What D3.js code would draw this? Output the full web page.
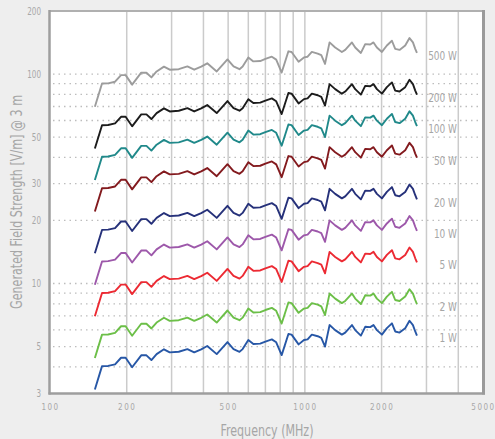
<!DOCTYPE html>
<html><head><meta charset="utf-8">
<script src="https://cdn.jsdelivr.net/npm/d3@7"></script>
<style>
html,body{margin:0;padding:0;background:#eeeeee;}
svg{display:block;}
</style></head>
<body>
<svg id="chart" width="495" height="439"></svg>
<script>
const freq = [150,160,169,180,190,198,210,228,239,250, 262,280,295,320,346,368,392,414,451,497, 525,554,570,600,628,668,700,742,772,811, 862,887,945,992,1025,1065,1123,1160,1200,1250, 1315,1397,1440,1530,1576,1659,1725,1805,1859,1917, 2006,2098,2196,2262,2352,2476,2574,2655,2711,2753];

const p1W = [3.12,4.03,4.04,4.11,4.42,4.42,3.98,4.54,4.54,4.31, 4.60,4.85,4.69,4.72,4.86,4.69,4.85,5.03,4.60,5.25, 4.86,4.72,4.86,5.37,5.14,5.16,5.28,5.41,5.24,4.55, 5.74,5.70,5.12,5.37,5.41,5.70,5.60,5.50,5.00,6.33, 5.99,5.70,5.83,6.33,5.99,5.64,6.21,6.19,6.33,5.99, 5.70,6.12,6.45,5.90,5.83,6.12,6.64,6.33,5.90,5.64];
const p2W = [4.41,5.70,5.71,5.81,6.25,6.25,5.63,6.42,6.42,6.10, 6.51,6.86,6.63,6.68,6.87,6.63,6.86,7.11,6.51,7.43, 6.87,6.68,6.87,7.59,7.27,7.30,7.47,7.65,7.41,6.44, 8.12,8.06,7.24,7.59,7.65,8.06,7.92,7.78,7.07,8.95, 8.47,8.06,8.25,8.95,8.47,7.98,8.78,8.75,8.95,8.47, 8.06,8.66,9.12,8.34,8.25,8.66,9.39,8.95,8.34,7.98];
const p5W = [6.98,9.01,9.03,9.19,9.88,9.88,8.90,10.15,10.15,9.64, 10.29,10.85,10.49,10.55,10.87,10.49,10.85,11.25,10.29,11.74, 10.87,10.55,10.87,12.01,11.49,11.54,11.81,12.10,11.72,10.17, 12.84,12.75,11.45,12.01,12.10,12.75,12.52,12.30,11.18,14.16, 13.39,12.75,13.04,14.16,13.39,12.61,13.89,13.84,14.16,13.39, 12.75,13.69,14.42,13.19,13.04,13.69,14.85,14.16,13.19,12.61];
const p10W = [9.87,12.74,12.78,13.00,13.98,13.98,12.59,14.36,14.36,13.63, 14.55,15.34,14.83,14.93,15.37,14.83,15.34,15.91,14.55,16.60, 15.37,14.93,15.37,16.98,16.25,16.32,16.70,17.11,16.57,14.39, 18.15,18.03,16.19,16.98,17.11,18.03,17.71,17.39,15.81,20.02, 18.94,18.03,18.44,20.02,18.94,17.84,19.64,19.58,20.02,18.94, 18.03,19.35,20.40,18.66,18.44,19.35,21.00,20.02,18.66,17.84];
const p20W = [13.95,18.02,18.07,18.38,19.77,19.77,17.80,20.30,20.30,19.28, 20.57,21.69,20.97,21.11,21.73,20.97,21.69,22.50,20.57,23.48, 21.73,21.11,21.73,24.02,22.99,23.08,23.61,24.19,23.43,20.35, 25.67,25.49,22.90,24.02,24.19,25.49,25.04,24.60,22.36,28.31, 26.79,25.49,26.07,28.31,26.79,25.22,27.77,27.68,28.31,26.79, 25.49,27.37,28.85,26.39,26.07,27.37,29.70,28.31,26.39,25.22];
const p50W = [22.06,28.50,28.57,29.06,31.26,31.26,28.15,32.10,32.10,30.48, 32.53,34.30,33.17,33.38,34.37,33.17,34.30,35.57,32.53,37.13, 34.37,33.38,34.37,37.97,36.35,36.49,37.34,38.26,37.05,32.18, 40.59,40.31,36.21,37.97,38.26,40.31,39.60,38.89,35.36,44.76, 42.36,40.31,41.23,44.76,42.36,39.88,43.91,43.77,44.76,42.36, 40.31,43.28,45.61,41.72,41.23,43.28,46.95,44.76,41.72,39.88];
const p100W = [31.2,40.3,40.4,41.1,44.2,44.2,39.8,45.4,45.4,43.1, 46.0,48.5,46.9,47.2,48.6,46.9,48.5,50.3,46.0,52.5, 48.6,47.2,48.6,53.7,51.4,51.6,52.8,54.1,52.4,45.5, 57.4,57.0,51.2,53.7,54.1,57.0,56.0,55.0,50.0,63.3, 59.9,57.0,58.3,63.3,59.9,56.4,62.1,61.9,63.3,59.9, 57.0,61.2,64.5,59.0,58.3,61.2,66.4,63.3,59.0,56.4];
const p200W = [44.1,57.0,57.1,58.1,62.5,62.5,56.3,64.2,64.2,61.0, 65.1,68.6,66.3,66.8,68.7,66.3,68.6,71.1,65.1,74.3, 68.7,66.8,68.7,75.9,72.7,73.0,74.7,76.5,74.1,64.4, 81.2,80.6,72.4,75.9,76.5,80.6,79.2,77.8,70.7,89.5, 84.7,80.6,82.5,89.5,84.7,79.8,87.8,87.5,89.5,84.7, 80.6,86.6,91.2,83.4,82.5,86.6,93.9,89.5,83.4,79.8];
const p500W = [69.8,90.1,90.3,91.9,98.8,98.8,89.0,101.5,101.5,96.4, 102.9,108.5,104.9,105.5,108.7,104.9,108.5,112.5,102.9,117.4, 108.7,105.5,108.7,120.1,114.9,115.4,118.1,121.0,117.2,101.7, 128.4,127.5,114.5,120.1,121.0,127.5,125.2,123.0,111.8,141.6, 133.9,127.5,130.4,141.6,133.9,126.1,138.9,138.4,141.6,133.9, 127.5,136.9,144.2,131.9,130.4,136.9,148.5,141.6,131.9,126.1];

const seriesNames = ["500 W","200 W","100 W","50 W","20 W","10 W","5 W","2 W","1 W"];
const seriesValues = [p500W,p200W,p100W,p50W,p20W,p10W,p5W,p2W,p1W];
const seriesColors = ["#9c9c9c","#1c1c1c","#20898a","#831a1e","#26317a","#9d58aa","#ec2a33","#6cbf48","#2757a6"];
const labelValues = [122,77.1,55.0,38.4,24.4,17.2,12.35,7.74,5.53];

const xTicks = [100,200,500,1000,2000,5000];
const xGrid = [200,300,400,500,600,700,800,900,1000,2000,3000,4000];
const yTicks = [3,5,10,20,30,50,100,200];
const yGrid = [4,5,6,7,8,9,10,20,30,40,50,60,70,80,90,100];

const FONT = "'Liberation Sans Narrow','DejaVu Sans Condensed',sans-serif";
const svg = d3.select("#chart");
const L = 50, R = 483, T = 11, B = 393;
const x = d3.scaleLog().domain([100,5000]).range([L,R]);
const y = d3.scaleLog().domain([3,200]).range([B,T]);

function condense(sel, k){
  sel.each(function(){
    const w = this.getComputedTextLength();
    d3.select(this).attr("textLength", w*k).attr("lengthAdjust","spacingAndGlyphs");
  });
}

svg.append("rect").attr("x",L).attr("y",T).attr("width",R-L).attr("height",B-T).attr("fill","#ffffff");

svg.append("g").selectAll("line").data(yGrid).join("line")
  .attr("x1",L+3).attr("x2",R-3)
  .attr("y1",d=>y(d)).attr("y2",d=>y(d))
  .attr("stroke","#bdbdbd").attr("stroke-width",1.3).attr("stroke-dasharray","1.5,4");

svg.append("g").selectAll("line").data(xGrid).join("line")
  .attr("x1",d=>x(d)).attr("x2",d=>x(d))
  .attr("y1",T).attr("y2",B)
  .attr("stroke","#cbcbcb").attr("stroke-width",1.5);

const line = d3.line().x((d,i)=>x(freq[i])).y(d=>y(d));
svg.append("g").selectAll("path").data(seriesValues).join("path")
  .attr("d",d=>line(d))
  .attr("fill","none")
  .attr("stroke",(d,i)=>seriesColors[i])
  .attr("stroke-width",1.9)
  .attr("stroke-linejoin","round");

const labels = svg.append("g").selectAll("text").data(seriesNames).join("text")
  .attr("x",457).attr("y",(d,i)=>y(labelValues[i]))
  .attr("dy","0.36em")
  .attr("text-anchor","end")
  .attr("fill","#a6a6a6")
  .style("font-family",FONT)
  .style("font-size","12px")
  .text(d=>d);
condense(labels, 0.83);

svg.append("line").attr("x1",L).attr("x2",R).attr("y1",T).attr("y2",T).attr("stroke","#b0b0b0").attr("stroke-width",2);
svg.append("line").attr("x1",L-0.5).attr("x2",L-0.5).attr("y1",T-1).attr("y2",B+1.5).attr("stroke","#9e9e9e").attr("stroke-width",2.5);
svg.append("line").attr("x1",L-1.5).attr("x2",R+2).attr("y1",B+0.5).attr("y2",B+0.5).attr("stroke","#9e9e9e").attr("stroke-width",2.5);
svg.append("line").attr("x1",R+0.5).attr("x2",R+0.5).attr("y1",T-1).attr("y2",B+1.5).attr("stroke","#9a9a9a").attr("stroke-width",3);

const xAxis = d3.axisBottom(x).tickValues(xTicks).tickFormat(d3.format("d")).tickSize(0).tickPadding(11);
const gx = svg.append("g").attr("transform",`translate(0,${B})`).call(xAxis);
gx.select(".domain").remove();
gx.selectAll("text").attr("fill","#a8a8a8")
  .style("font-family",FONT)
  .style("font-size","8px").style("letter-spacing","1.5px");

const yAxis = d3.axisLeft(y).tickValues(yTicks).tickFormat(d3.format("d")).tickSize(0).tickPadding(9);
const gy = svg.append("g").attr("transform",`translate(${L},0)`).call(yAxis);
gy.select(".domain").remove();
const ytxt = gy.selectAll("text").attr("fill","#a8a8a8")
  .style("font-family",FONT)
  .style("font-size","10px");
condense(ytxt, 0.8);

const xt = svg.append("text").attr("x",267).attr("y",436).attr("text-anchor","middle")
  .attr("fill","#a6a6a6")
  .style("font-family",FONT)
  .style("font-size","15px").text("Frequency (MHz)");
xt.attr("textLength",93).attr("lengthAdjust","spacingAndGlyphs");
const yt = svg.append("text").attr("transform","translate(21.5,202) rotate(-90)").attr("text-anchor","middle")
  .attr("fill","#a6a6a6")
  .style("font-family",FONT)
  .style("font-size","15px").text("Generated Field Strength [V/m] @ 3 m");
yt.attr("textLength",214).attr("lengthAdjust","spacingAndGlyphs");
</script>
</body></html>
